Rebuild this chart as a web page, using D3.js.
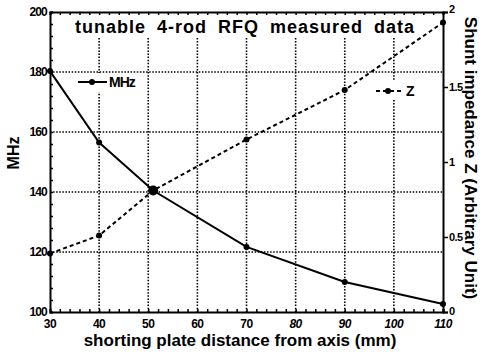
<!DOCTYPE html>
<html>
<head>
<meta charset="utf-8">
<script src="https://cdn.jsdelivr.net/npm/d3@7"></script>
<style>
  body { margin: 0; background: #fff; }
  svg { display: block; font-family: "Liberation Sans", Arial, sans-serif; }
</style>
</head>
<body>
<script>
  // shorting plate distance (mm)
  var distance = [30, 40, 51, 70, 90, 110];
  // frequency (MHz)
  var freq = [180.3, 156.5, 140.5, 121.7, 110, 102.7];
  // shunt impedance Z (arbitrary unit)
  var shunt = [0.39, 0.51, 0.81, 1.15, 1.48, 1.93];

  var xTicks = [30, 40, 50, 60, 70, 80, 90, 100, 110];
  var yLeftTicks = [100, 120, 140, 160, 180, 200];
  var yRightTicks = [0, 0.5, 1, 1.5, 2];
  var xGrid = [40, 50, 60, 70, 80, 90, 100];
  var yGrid = [120, 140, 160, 180];

  const w = 486;
  const h = 361;
  const padL = 50, padR = 443, padT = 12, padB = 312;

  const svg = d3.select("body").append("svg").attr("width", w).attr("height", h);

  const xScale = d3.scaleLinear().domain([30, 110]).range([padL, padR]);
  const yL = d3.scaleLinear().domain([100, 200]).range([padB, padT]);
  const yR = d3.scaleLinear().domain([0, 2]).range([padB, padT]);

  // grid
  svg.append('g').selectAll('line').data(xGrid).enter().append('line')
    .attr('x1', d => xScale(d)).attr('x2', d => xScale(d))
    .attr('y1', 38).attr('y2', padB)
    .attr('stroke', '#000').attr('stroke-width', 1.6).attr('stroke-dasharray', '1.5,1.6');

  svg.append('g').selectAll('line').data(yGrid).enter().append('line')
    .attr('x1', padL).attr('x2', padR)
    .attr('y1', d => yL(d)).attr('y2', d => yL(d))
    .attr('stroke', '#000').attr('stroke-width', 1.6).attr('stroke-dasharray', '1.5,1.6');

  // legend backgrounds (gridlines hidden behind)
  svg.append('rect').attr('x', 76).attr('y', 73).attr('width', 66).attr('height', 19).attr('fill', '#fff');
  svg.append('rect').attr('x', 372).attr('y', 80).attr('width', 48).attr('height', 20).attr('fill', '#fff');

  // axes
  const xBottom = d3.axisBottom(xScale).tickValues(d3.range(30, 111, 2)).tickSize(-3).tickFormat('');
  const xTop = d3.axisTop(xScale).tickValues(d3.range(30, 111, 2)).tickSize(-3).tickFormat('');
  const yLeftAxis = d3.axisLeft(yL).tickValues(d3.range(100, 201, 4)).tickSize(-3).tickFormat('');
  const yRightAxis = d3.axisRight(yR).tickValues(yRightTicks).tickSize(5).tickFormat('');

  svg.append('g').attr('transform', 'translate(0,' + padB + ')').call(xBottom);
  svg.append('g').attr('transform', 'translate(0,' + padT + ')').call(xTop);
  svg.append('g').attr('transform', 'translate(' + padL + ',0)').call(yLeftAxis);
  svg.append('g').attr('transform', 'translate(' + padR + ',0)').call(yRightAxis);

  svg.selectAll('.domain').attr('stroke', '#000').attr('stroke-width', 2);
  svg.selectAll('.tick line').attr('stroke', '#000').attr('stroke-width', 1.5);

  // tick labels
  svg.append('g').selectAll('text').data(xTicks).enter().append('text')
    .attr('x', d => xScale(d)).attr('y', 328)
    .attr('text-anchor', 'middle').attr('font-size', 12).attr('font-weight', 'bold')
    .attr('font-style', d => d >= 80 ? 'italic' : 'normal')
    .attr('letter-spacing', -0.5)
    .text(d => d);

  svg.append('g').selectAll('text').data(yLeftTicks).enter().append('text')
    .attr('x', 47).attr('y', d => yL(d) + 4)
    .attr('text-anchor', 'end').attr('font-size', 12).attr('font-weight', 'bold')
    .attr('letter-spacing', -0.8)
    .text(d => d);

  svg.append('g').selectAll('text').data(yRightTicks).enter().append('text')
    .attr('x', 449).attr('y', d => yR(d) + (d === 0 ? 3 : d === 2 ? 1 : 4))
    .attr('font-size', 11).attr('font-weight', 'bold')
    .attr('letter-spacing', -0.6)
    .text(d => d);

  // data lines
  const mhzLine = d3.line().x((d, i) => xScale(distance[i])).y(d => yL(d));
  const zLine = d3.line().x((d, i) => xScale(distance[i])).y(d => yR(d));

  svg.append('path').datum(freq).attr('d', mhzLine)
    .attr('fill', 'none').attr('stroke', '#000').attr('stroke-width', 2);
  svg.append('path').datum(shunt).attr('d', zLine)
    .attr('fill', 'none').attr('stroke', '#000').attr('stroke-width', 2).attr('stroke-dasharray', '4,3');

  svg.append('g').selectAll('circle').data(freq).enter().append('circle')
    .attr('cx', (d, i) => xScale(distance[i])).attr('cy', d => yL(d))
    .attr('r', (d, i) => i === 2 ? 5 : 3).attr('fill', '#000');
  svg.append('g').selectAll('circle').data(shunt).enter().append('circle')
    .attr('cx', (d, i) => xScale(distance[i])).attr('cy', d => yR(d))
    .attr('r', 3).attr('fill', '#000');

  // legends
  svg.append('line').attr('x1', 78).attr('x2', 107).attr('y1', 82).attr('y2', 82)
    .attr('stroke', '#000').attr('stroke-width', 2);
  svg.append('circle').attr('cx', 92).attr('cy', 82).attr('r', 3).attr('fill', '#000');
  svg.append('text').attr('x', 109).attr('y', 87).attr('font-size', 14).attr('font-weight', 'bold')
    .attr('letter-spacing', -1).text('MHz');

  svg.append('line').attr('x1', 376).attr('x2', 401).attr('y1', 91).attr('y2', 91)
    .attr('stroke', '#000').attr('stroke-width', 2).attr('stroke-dasharray', '4,3');
  svg.append('circle').attr('cx', 388).attr('cy', 91).attr('r', 3).attr('fill', '#000');
  svg.append('text').attr('x', 406).attr('y', 96).attr('font-size', 14).attr('font-weight', 'bold').text('Z');

  // title
  svg.append('text').attr('x', 245).attr('y', 33).attr('text-anchor', 'middle')
    .attr('font-size', 18).attr('font-weight', 'bold')
    .attr('letter-spacing', 1).attr('word-spacing', 5)
    .text('tunable 4-rod RFQ measured data');

  // axis titles
  svg.append('text').attr('x', 240).attr('y', 346).attr('text-anchor', 'middle')
    .attr('font-size', 17).attr('font-weight', 'bold')
    .text('shorting plate distance from axis (mm)');

  svg.append('text').attr('transform', 'translate(19,153) rotate(-90)')
    .attr('text-anchor', 'middle').attr('font-size', 16).attr('font-weight', 'bold')
    .text('MHz');

  svg.append('text').attr('transform', 'translate(465,158) rotate(90)')
    .attr('text-anchor', 'middle').attr('font-size', 17).attr('font-weight', 'bold')
    .text('Shunt impedance Z (Arbitrary Unit)');
</script>
</body>
</html>
